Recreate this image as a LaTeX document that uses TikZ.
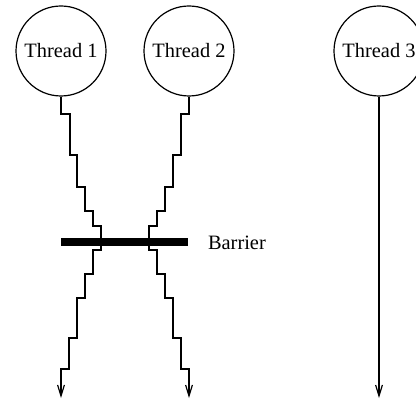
\documentclass[tikz,border=0pt]{standalone}
\usepackage{fontspec}
\setmainfont{Liberation Serif}
\usetikzlibrary{arrows.meta}
\tikzset{
  thread/.style={circle,draw=black,line width=0.6pt,inner sep=0pt,
    minimum size=45pt,font=\fontsize{10.2}{12}\selectfont},
  flow/.style={line width=0.6pt,-{Straight Barb[length=5.5pt,width=3.4pt]}},
  barrier/.style={line width=3.6pt},
  every picture/.style={font=\fontsize{10.2}{12}\selectfont}
}
\begin{document}
\begin{tikzpicture}[x=0.5pt,y=-0.5pt]
  \useasboundingbox (0,0) rectangle (416,399);
  \node[thread] (t1) at (61,51) {Thread 1};
  \node[thread] (t2) at (189,51) {Thread 2};
  \node[thread] (t3) at (379,51) {Thread 3};
  \coordinate (e1) at (61,398);
  \coordinate (e2) at (189,398);
  \coordinate (e3) at (379,398);
  % staircase paths meet at the barrier and leave it mirrored
  \draw[flow] (t1.south) |- (70,114) |- (77,155) |- (85,187) |- (93,211)
    |- (101,226) |- (93,250) |- (85,274) |- (77,298) |- (69,338)
    |- (61,369) -- (e1);
  \draw[flow] (t2.south) |- (181,114) |- (173,155) |- (165,187) |- (157,211)
    |- (149,226) |- (157,250) |- (165,274) |- (173,298) |- (181,338)
    |- (189,369) -- (e2);
  \draw[flow] (t3.south) -- (e3);
  \coordinate (b1) at (61,242);
  \coordinate (b2) at (188,242);
  \draw[barrier] (b1) -- (b2);
  \node[anchor=west] (lbl) at (201,243) {Barrier};
\end{tikzpicture}
\end{document}
